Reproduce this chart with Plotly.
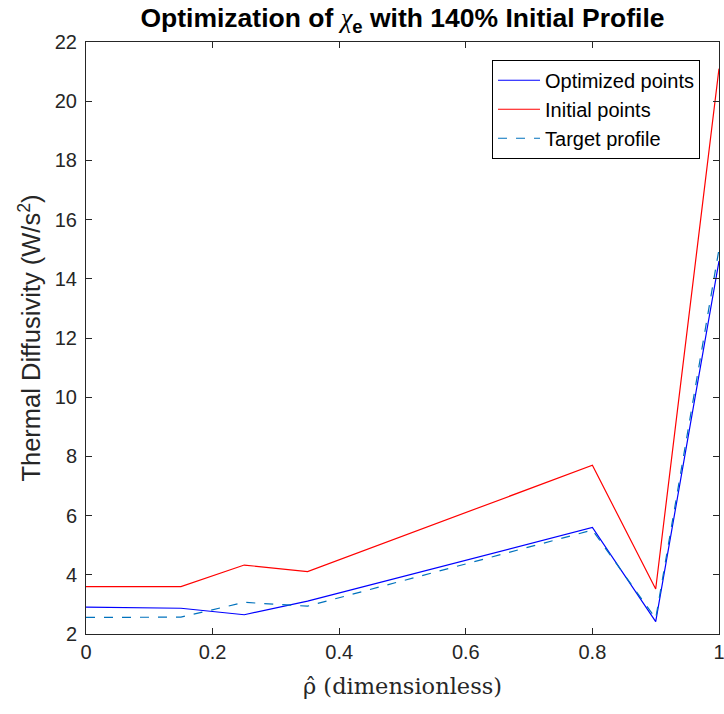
import plotly.graph_objects as go

rho = [0, 0.15, 0.25, 0.35, 0.8, 0.9, 1.0]
optimized = [2.91, 2.87, 2.65, 3.11, 5.60, 2.42, 14.6]
initial = [3.60, 3.60, 4.33, 4.11, 7.70, 3.52, 21.1]
target = [2.56, 2.57, 3.07, 2.94, 5.51, 2.52, 15.0]

x_ticks = [0, 0.2, 0.4, 0.6, 0.8, 1]
x_tick_text = ["0", "0.2", "0.4", "0.6", "0.8", "1"]
y_ticks = list(range(2, 23, 2))

fig = go.Figure()
fig.add_trace(go.Scatter(x=rho, y=optimized, mode="lines", name="Optimized points",
                         line=dict(color="#0000FF", width=1.2)))
fig.add_trace(go.Scatter(x=rho, y=initial, mode="lines", name="Initial points",
                         line=dict(color="#FF0000", width=1.2)))
fig.add_trace(go.Scatter(x=rho, y=target, mode="lines", name="Target profile",
                         line=dict(color="#0072BD", width=1.2, dash="dash")))

axis_common = dict(showline=True, linecolor="#262626", linewidth=1, mirror="ticks",
                   ticks="inside", ticklen=6, tickcolor="#262626", showgrid=False,
                   zeroline=False, ticklabeloverflow="allow", automargin=False,
                   tickfont=dict(family="Liberation Sans, Arial", size=20, color="#262626"))

fig.update_layout(
    width=724, height=714,
    margin=dict(l=86, r=5, t=42, b=80, autoexpand=False),
    paper_bgcolor="white", plot_bgcolor="white",
    title=dict(text="<b>Optimization of </b><span style='font-family:Liberation Serif;font-weight:normal'><i>χ</i></span><b><sub>e</sub> with 140% Initial Profile</b>",
               x=(86 + 719) / 2 / 724, xanchor="center",
               yref="container", y=1 - 18 / 714, yanchor="middle",
               font=dict(family="Liberation Sans, Arial", size=26.5, color="black")),
    xaxis=dict(range=[0, 1], tickvals=x_ticks, ticktext=x_tick_text,
               title=dict(text="ρ̂ (dimensionless)", standoff=16,
                          font=dict(family="DejaVu Serif", size=22.5, color="#262626")),
               **axis_common),
    yaxis=dict(range=[2, 22], tickvals=y_ticks, ticklabelstandoff=4,
               title=dict(text="Thermal Diffusivity (W/s<sup>2</sup>)", standoff=6,
                          font=dict(family="Liberation Sans, Arial", size=25.5, color="#262626")),
               **axis_common),
    legend=dict(x=0.97, xanchor="right", y=0.97, yanchor="top",
                bgcolor="white", bordercolor="black", borderwidth=1,
                font=dict(family="Liberation Sans, Arial", size=20, color="black"),
                tracegroupgap=0, itemwidth=42),
    showlegend=True,
)

fig.write_html("out.html")
